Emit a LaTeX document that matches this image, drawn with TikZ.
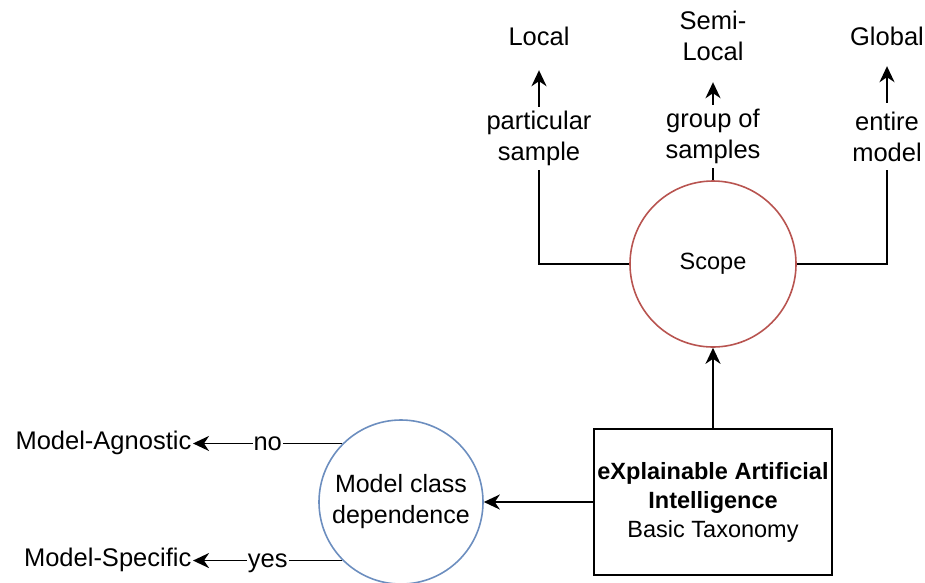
\documentclass[tikz,border=0pt]{standalone}
\usepackage{fontspec}
\setmainfont{Liberation Sans}
\usetikzlibrary{arrows.meta}
\definecolor{scopered}{HTML}{B85450}
\definecolor{mcdblue}{HTML}{6C8EBF}
\begin{document}
\begin{tikzpicture}[x=1pt,y=-1pt,
  txt/.style={align=center,inner sep=0pt,font=\fontsize{25.5}{31}\selectfont},
  lbl/.style={txt,fill=white},
  circ/.style={circle,draw,line width=1.6pt,inner sep=0pt,align=center},
  conn/.style={line width=1.8pt},
  arr/.style={conn,-{Stealth[length=16pt,width=15pt,inset=5pt]}}
]
\useasboundingbox (0,0) rectangle (925,582);
% Scope
\node[circ,draw=scopered,minimum size=166pt,font=\fontsize{23.5}{29}\selectfont] (scope) at (713,264) {Scope};
% XAI box
\node[draw,line width=1.8pt,minimum width=238pt,minimum height=146pt,inner sep=0pt,align=center,font=\fontsize{23.5}{29}\selectfont] (xai) at (713,502)
  {\textbf{eXplainable Artificial}\\\textbf{Intelligence}\\Basic Taxonomy};
% Model class dependence
\node[circ,draw=mcdblue,minimum size=164pt,font=\fontsize{25}{31}\selectfont] (mcd) at (401,502) {Model class\\dependence};
% top outcomes
\node[txt,minimum height=68pt] (local) at (539,36) {Local};
\node[txt,minimum height=92pt] (semi) at (713,36) {Semi-\\Local};
\node[txt,minimum height=60pt] (global) at (887,36) {Global};
% labels
\node[lbl,minimum height=63pt] (lp) at (539,138.5) {particular\\sample};
\node[lbl,minimum height=63pt] (lg) at (713,136.5) {group of\\samples};
\node[lbl,minimum height=67pt] (le) at (887,136.5) {entire\\model};
% left outcomes
\node[txt,anchor=east,inner sep=1.5pt] (ma) at (193,443) {Model-Agnostic};
\node[txt,anchor=east,inner sep=1.5pt] (ms) at (193,560) {Model-Specific};
% connectors
\draw[arr] (xai.north) -- (scope.south);
\draw[arr] (xai.west) -- (mcd.east);
\draw[conn] (scope.west) -| (lp.south);
\draw[arr] (lp.north) -- (local.south);
\draw[conn] (scope.north) -- (lg.south);
\draw[arr] (lg.north) -- (semi.south);
\draw[conn] (scope.east) -| (le.south);
\draw[arr] (le.north) -- (global.south);
\draw[arr] (mcd.135) -- node[lbl,inner sep=1pt]{no} (mcd.135 -| ma.east);
\draw[arr] (mcd.225) -- node[lbl,inner sep=1pt,yshift=-3pt]{yes} (mcd.225 -| ms.east);
\end{tikzpicture}
\end{document}
